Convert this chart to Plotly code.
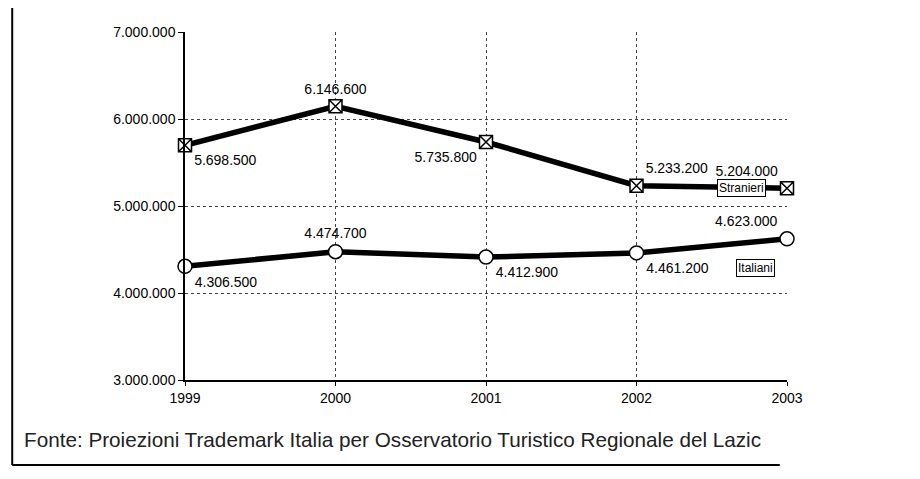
import plotly.graph_objects as go

years = [1999, 2000, 2001, 2002, 2003]
stranieri = [5698500, 6146600, 5735800, 5233200, 5204000]
italiani = [4306500, 4474700, 4412900, 4461200, 4623000]
y_ticks = [3000000, 4000000, 5000000, 6000000, 7000000]
series_names = ["Stranieri", "Italiani"]
source_text = "Fonte: Proiezioni Trademark Italia per Osservatorio Turistico Regionale del Lazic"


def fmt(v):
    return f"{v:,}".replace(",", ".")


label_font = dict(family="Liberation Sans, Arial", size=14, color="#000")
tick_font = dict(family="Liberation Sans, Arial", size=14, color="#000")

fig = go.Figure()
fig.add_trace(go.Scatter(
    x=years, y=stranieri, mode="lines+markers+text", name=series_names[0],
    line=dict(color="#000", width=5.5),
    marker=dict(symbol="square-x", size=13, color="white", line=dict(color="#000", width=1.5)),
    text=[fmt(v) for v in stranieri],
    textposition=["bottom right", "top center", "bottom left", "top right", "top left"],
    textfont=label_font, cliponaxis=False,
))
fig.add_trace(go.Scatter(
    x=years, y=italiani, mode="lines+markers+text", name=series_names[1],
    line=dict(color="#000", width=5.5),
    marker=dict(symbol="circle", size=14, color="white", line=dict(color="#000", width=1.5)),
    text=[fmt(v) for v in italiani],
    textposition=["bottom right", "top center", "bottom right", "bottom right", "top left"],
    textfont=label_font, cliponaxis=False,
))

# series name boxes
fig.add_annotation(x=years[-1], y=stranieri[-1], xref="x", yref="y", text=series_names[0],
                   showarrow=False, xshift=-46, yshift=0, bgcolor="white",
                   bordercolor="#000", borderwidth=1, borderpad=1,
                   font=dict(family="Liberation Sans, Arial", size=12, color="#000"))
fig.add_annotation(x=years[-1], y=italiani[-1], xref="x", yref="y", text=series_names[1],
                   showarrow=False, xshift=-32, yshift=-29, bgcolor="white",
                   bordercolor="#000", borderwidth=1, borderpad=1,
                   font=dict(family="Liberation Sans, Arial", size=12, color="#000"))

# source note
fig.add_annotation(x=-0.271, y=-0.172, xref="paper", yref="paper", xanchor="left", yanchor="middle",
                   text=source_text, showarrow=False,
                   font=dict(family="Liberation Sans, Arial", size=20.7, color="#222"))

# frame lines (left and bottom)
fig.add_shape(type="line", xref="paper", yref="paper", x0=-0.287, x1=-0.287, y0=-0.244, y1=1.1,
              line=dict(color="#000", width=2))
fig.add_shape(type="line", xref="paper", yref="paper", x0=-0.287, x1=0.988, y0=-0.244, y1=-0.244,
              line=dict(color="#000", width=2))

fig.update_xaxes(
    range=[years[0], years[-1]], tickvals=years, ticktext=[str(y) for y in years],
    showgrid=True, gridcolor="#444", griddash="dot", gridwidth=1,
    showline=True, linecolor="#000", linewidth=1.5,
    ticks="outside", ticklen=4, tickcolor="#000",
    tickfont=tick_font, zeroline=False,
)
fig.update_yaxes(
    range=[y_ticks[0], y_ticks[-1]], tickvals=y_ticks, ticktext=[fmt(v) for v in y_ticks],
    showgrid=True, gridcolor="#444", griddash="dot", gridwidth=1,
    showline=True, linecolor="#000", linewidth=1.5,
    ticks="outside", ticklen=5, tickcolor="#000",
    tickfont=tick_font, zeroline=False,
)
fig.update_layout(
    width=920, height=479,
    margin=dict(l=177, r=141, t=24, b=107),
    paper_bgcolor="white", plot_bgcolor="white",
    showlegend=False,
)
fig.write_html("out.html")
